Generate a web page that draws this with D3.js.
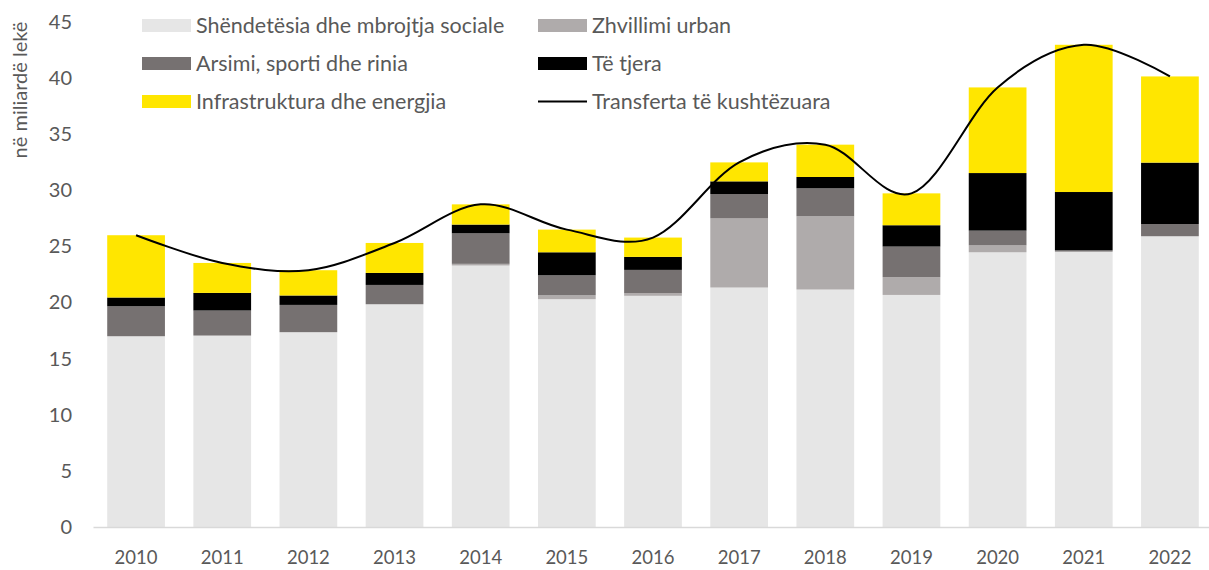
<!DOCTYPE html>
<html>
<head>
<meta charset="utf-8">
<script src="https://cdn.jsdelivr.net/npm/d3@7"></script>
<style>
  html, body { margin: 0; padding: 0; background: #fff; }
  svg text { font-family: Lato, "Open Sans", sans-serif; fill: #595959; }
</style>
</head>
<body>
<svg id="chart" width="1209" height="570"></svg>
<script>
// Years on the category axis
const years = ["2010","2011","2012","2013","2014","2015","2016","2017","2018","2019","2020","2021","2022"];

// Stacked components, billion lekë
const shendetesia = [17.00, 17.06, 17.36, 19.85, 23.30, 20.30, 20.60, 21.34, 21.16, 20.68, 24.48, 24.54, 25.91];
const zhvillimi   = [0.00, 0.00, 0.00, 0.00, 0.15, 0.35, 0.23, 6.16, 6.53, 1.58, 0.62, 0.00, 0.00];
const arsimi      = [2.67, 2.23, 2.43, 1.72, 2.72, 1.78, 2.08, 2.17, 2.49, 2.73, 1.31, 0.12, 1.09];
const teTjera     = [0.78, 1.57, 0.84, 1.07, 0.78, 2.05, 1.16, 1.13, 1.01, 1.90, 5.13, 5.19, 5.47];
const infra       = [5.55, 2.67, 2.25, 2.67, 1.80, 2.02, 1.72, 1.69, 2.88, 2.84, 7.63, 13.12, 7.68];

// Total conditional transfers (line)
const transferta  = [26.00, 23.53, 22.88, 25.31, 28.75, 26.50, 25.79, 32.49, 34.07, 29.73, 39.17, 42.97, 40.15];

const yTicks = [0, 5, 10, 15, 20, 25, 30, 35, 40, 45];

const seriesNames = ["Shëndetësia dhe mbrojtja sociale", "Zhvillimi urban", "Arsimi, sporti dhe rinia", "Të tjera", "Infrastruktura dhe energjia"];
const seriesValues = [shendetesia, zhvillimi, arsimi, teTjera, infra];
const seriesColors = ["#e6e6e6", "#afabab", "#767171", "#000000", "#ffe600"];
const lineName = "Transferta të kushtëzuara";

const svg = d3.select("#chart");

const x = d3.scaleBand().domain(years).range([93, 1213]).paddingInner(0.33).paddingOuter(0.165);
const y = d3.scaleLinear().domain([0, 45]).range([527, 22]);

// Build table for stacking
const rows = years.map((yr, i) => {
  const r = { year: yr };
  seriesNames.forEach((n, k) => { r[n] = seriesValues[k][i]; });
  return r;
});
const stacked = d3.stack().keys(seriesNames)(rows);

// Bars
svg.append("g").selectAll("g")
  .data(stacked)
  .join("g")
  .attr("fill", (d, i) => seriesColors[i])
  .selectAll("rect")
  .data(d => d)
  .join("rect")
  .attr("x", d => x(d.data.year))
  .attr("width", x.bandwidth())
  .attr("y", d => y(d[1]))
  .attr("height", d => Math.max(0, y(d[0]) - y(d[1])));

// Y axis (labels only)
const yAxis = svg.append("g")
  .attr("transform", "translate(93,0)")
  .call(d3.axisLeft(y).tickValues(yTicks).tickSize(0).tickPadding(21));
yAxis.select(".domain").remove();
yAxis.selectAll("text").style("font-size", "20px").attr("fill", "#595959");

// X axis
const xAxis = svg.append("g")
  .attr("transform", "translate(0,527)")
  .call(d3.axisBottom(x).tickSize(0).tickPadding(24));
xAxis.select(".domain").attr("stroke", "#d9d9d9").attr("stroke-width", 1.5);
xAxis.selectAll("text").style("font-size", "18.5px").attr("fill", "#595959");

// Smoothed total line
const line = d3.line()
  .x((d, i) => x(years[i]) + x.bandwidth() / 2)
  .y(d => y(d))
  .curve(d3.curveCardinal.tension(0));
svg.append("path")
  .datum(transferta)
  .attr("fill", "none")
  .attr("stroke", "#000")
  .attr("stroke-width", 2)
  .attr("d", line);

// Y-axis title
svg.append("text")
  .attr("transform", "translate(27,90) rotate(-90)")
  .attr("text-anchor", "middle")
  .style("font-size", "20px")
  .text("në miliardë lekë");

// Legend
const legendItems = [
  { name: seriesNames[0], color: seriesColors[0], col: 0, row: 0 },
  { name: seriesNames[1], color: seriesColors[1], col: 1, row: 0 },
  { name: seriesNames[2], color: seriesColors[2], col: 0, row: 1 },
  { name: seriesNames[3], color: seriesColors[3], col: 1, row: 1 },
  { name: seriesNames[4], color: seriesColors[4], col: 0, row: 2 },
  { name: lineName, color: "#000", col: 1, row: 2, isLine: true }
];
const colX = [142, 538];
const rowY = [25.5, 63.5, 101.5];
const legend = svg.append("g");
legendItems.forEach(it => {
  const gx = colX[it.col], gy = rowY[it.row];
  if (it.isLine) {
    legend.append("line").attr("x1", gx).attr("x2", gx + 49)
      .attr("y1", gy).attr("y2", gy).attr("stroke", it.color).attr("stroke-width", 2);
  } else {
    legend.append("rect").attr("x", gx).attr("y", gy - 6.5)
      .attr("width", 49).attr("height", 13).attr("fill", it.color);
  }
  legend.append("text").attr("x", gx + 54).attr("y", gy).attr("dy", "0.35em")
    .style("font-size", "21.5px").text(it.name);
});
</script>
</body>
</html>
